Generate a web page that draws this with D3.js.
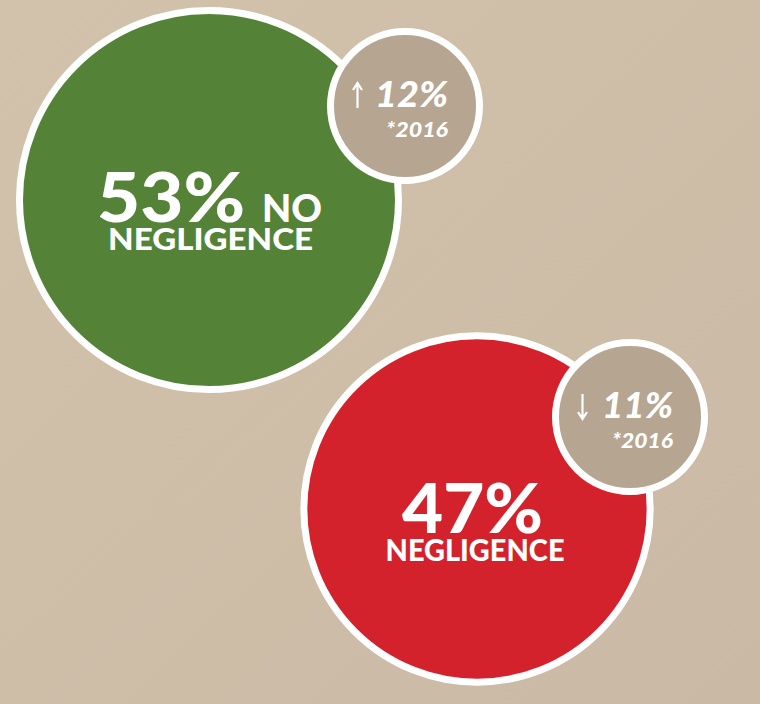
<!DOCTYPE html>
<html>
<head>
<meta charset="utf-8">
<script src="https://cdn.jsdelivr.net/npm/d3@7"></script>
<style>
  html, body { margin: 0; padding: 0; background: #cebda8; }
  svg { display: block; }
</style>
</head>
<body>
<div id="chart"></div>
<script>
// values
const labels = ["NO NEGLIGENCE", "NEGLIGENCE"]
const shares = [53, 47]
const changes = [12, -11]
const years = ["2016", "2016"]

const width = 760
const height = 704

// layout only
const centers = [[209, 200], [477, 509]]
const badgeCenters = [[405, 106], [630, 417]]
const badgeR = 74.5
const colors = ["#548338", "#d3222c"]
const badgeColor = "#b5a591"
const font = "Lato, 'Open Sans', sans-serif"

const rScale = d3.scalePow().exponent(0.75).domain([0, 53]).range([0, 189.5])

const data = labels.map((d, i) => ({
  label: d, share: shares[i], change: changes[i], year: years[i],
  cx: centers[i][0], cy: centers[i][1],
  bx: badgeCenters[i][0], by: badgeCenters[i][1], color: colors[i]
}))

const svg = d3.select("#chart").append("svg")
  .attr("width", width)
  .attr("height", height)

const defs = svg.append("defs")
const grad = defs.append("linearGradient")
  .attr("id", "bg").attr("x1", 0).attr("y1", 0).attr("x2", 1).attr("y2", 1)
grad.append("stop").attr("offset", "0%").attr("stop-color", "#d2c2ac")
grad.append("stop").attr("offset", "50%").attr("stop-color", "#cebda7")
grad.append("stop").attr("offset", "100%").attr("stop-color", "#cab9a5")

svg.append("rect").attr("width", width).attr("height", height).attr("fill", "url(#bg)")

const g = svg.selectAll("g.bubble")
  .data(data)
  .join("g")
    .attr("class", "bubble")

g.append("circle")
  .attr("cx", d => d.cx)
  .attr("cy", d => d.cy)
  .attr("r", d => rScale(d.share))
  .attr("fill", d => d.color)
  .attr("stroke", "#fff")
  .attr("stroke-width", 7)

g.append("circle")
  .attr("cx", d => d.bx)
  .attr("cy", d => d.by)
  .attr("r", badgeR)
  .attr("fill", badgeColor)
  .attr("stroke", "#fff")
  .attr("stroke-width", 7)

// big numbers
g.append("text")
  .attr("x", (d, i) => i === 0 ? d.cx - 112 : d.cx - 75)
  .attr("y", (d, i) => i === 0 ? d.cy + 22 : d.cy + 24)
  .attr("fill", "#fff")
  .attr("font-family", font)
  .attr("font-weight", 900)
  .attr("font-size", 68)
  .attr("textLength", (d, i) => i === 0 ? 148 : 141)
  .attr("lengthAdjust", "spacingAndGlyphs")
  .text(d => d.share + "%")

// "NO" next to the first number
g.filter(d => d.label.startsWith("NO "))
  .append("text")
  .attr("x", d => d.cx + 53)
  .attr("y", d => d.cy + 22)
  .attr("fill", "#fff")
  .attr("font-family", font)
  .attr("font-weight", 900)
  .attr("font-size", 37)
  .attr("textLength", 60)
  .attr("lengthAdjust", "spacingAndGlyphs")
  .text("NO")

g.append("text")
  .attr("x", (d, i) => i === 0 ? d.cx + 1.5 : d.cx - 2)
  .attr("y", (d, i) => i === 0 ? d.cy + 50 : d.cy + 52)
  .attr("text-anchor", "middle")
  .attr("fill", "#fff")
  .attr("font-family", font)
  .attr("font-weight", 900)
  .attr("font-size", 30)
  .attr("textLength", (d, i) => i === 0 ? 205 : 179)
  .attr("lengthAdjust", "spacingAndGlyphs")
  .text("NEGLIGENCE")

// badge texts
g.append("text")
  .attr("x", d => d.bx + 43)
  .attr("y", d => d.by + 1)
  .attr("text-anchor", "end")
  .attr("fill", "#fff")
  .attr("font-family", font)
  .attr("font-weight", 900)
  .attr("font-style", "italic")
  .attr("font-size", 36)
  .attr("textLength", (d, i) => i === 0 ? 73 : 71)
  .attr("lengthAdjust", "spacingAndGlyphs")
  .text(d => Math.abs(d.change) + "%")

g.append("text")
  .attr("x", d => d.bx + 43)
  .attr("y", d => d.by + 31)
  .attr("text-anchor", "end")
  .attr("fill", "#fff")
  .attr("font-family", font)
  .attr("font-weight", 900)
  .attr("font-style", "italic")
  .attr("font-size", 20)
  .attr("textLength", (d, i) => i === 0 ? 62 : 61)
  .attr("lengthAdjust", "spacingAndGlyphs")
  .text(d => "*" + d.year)

// up / down arrows
g.append("path")
  .attr("fill", "none")
  .attr("stroke", "#fff")
  .attr("stroke-width", 2.2)
  .attr("d", d => {
    const x = d.bx - 47.5
    const top = d.by - 23, bot = d.by + 2
    if (d.change > 0) {
      return `M${x},${bot}V${top + 1}M${x - 4.5},${top + 7}L${x},${top}L${x + 4.5},${top + 7}`
    }
    return `M${x},${top}V${bot - 1}M${x - 4.5},${bot - 7}L${x},${bot}L${x + 4.5},${bot - 7}`
  })
</script>
</body>
</html>
